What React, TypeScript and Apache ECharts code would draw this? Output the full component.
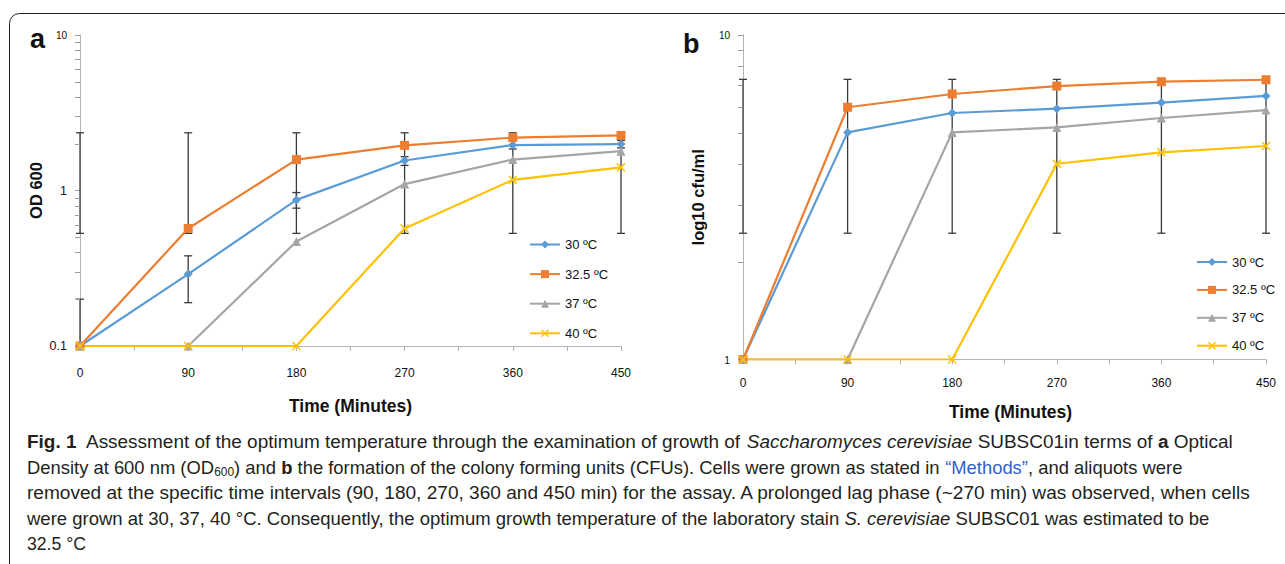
import React, { useEffect, useRef } from 'react';
import * as echarts from 'echarts';

// ---------- data ----------
const times = [0, 90, 180, 270, 360, 450];
const xTickLabels = ['0', '90', '180', '270', '360', '450'];
const seriesNames = ['30 ºC', '32.5 ºC', '37 ºC', '40 ºC'];

// panel a: OD 600
const od30 = [0.1, 0.29, 0.87, 1.56, 1.96, 1.99];
const od325 = [0.1, 0.57, 1.58, 1.95, 2.19, 2.26];
const od37 = [0.1, 0.1, 0.47, 1.1, 1.58, 1.79];
const od40 = [0.1, 0.1, 0.1, 0.57, 1.17, 1.41];
const odErrLow = [0.53, 0.53, 0.53, 0.53, 0.53, 0.53];
const odErrHigh = [2.35, 2.35, 2.35, 2.35, 2.35, 2.35];
const od30ErrLow = [0.1, 0.19, 0.77, 1.45, 1.85, 1.88];
const od30ErrHigh = [0.2, 0.38, 0.97, 1.65, 2.07, 2.1];
const odMinorTicks = [0.2, 0.3, 0.4, 0.5, 0.6, 0.7, 0.8, 0.9, 2, 3, 4, 5, 6, 7, 8, 9];

// panel b: log10 cfu/ml
const cfu30 = [1, 5.01, 5.75, 5.93, 6.19, 6.49];
const cfu325 = [1, 5.99, 6.58, 6.96, 7.18, 7.28];
const cfu37 = [1, 1, 5.01, 5.19, 5.55, 5.87];
const cfu40 = [1, 1, 1, 4.01, 4.35, 4.55];
const cfuErrLow = [2.45, 2.45, 2.45, 2.45, 2.45, 2.45];
const cfuErrHigh = [7.3, 7.3, 7.3, 7.3, 7.3, 7.3];
const cfuMinorTicks = [2, 3, 4, 5, 6, 7, 8, 9];

// caption (segments: n normal, b bold, i italic, l link, s subscript)
const captionLines: [string, string][][] = [
  [['b', 'Fig. 1'], ['n', '  Assessment of the optimum temperature through the examination of growth of '], ['i', 'Saccharomyces cerevisiae'], ['n', ' SUBSC01in terms of '], ['b', 'a'], ['n', ' Optical']],
  [['n', 'Density at 600 nm (OD'], ['s', '600'], ['n', ') and '], ['b', 'b'], ['n', ' the formation of the colony forming units (CFUs). Cells were grown as stated in '], ['l', '“Methods”'], ['n', ', and aliquots were']],
  [['n', 'removed at the specific time intervals (90, 180, 270, 360 and 450 min) for the assay. A prolonged lag phase (~270 min) was observed, when cells']],
  [['n', 'were grown at 30, 37, 40 °C. Consequently, the optimum growth temperature of the laboratory stain '], ['i', 'S. cerevisiae'], ['n', ' SUBSC01 was estimated to be']],
  [['n', '32.5 °C']],
];
const captionLineEnds = [1233, 1183, 1253, 1209, 86];
const captionLineY = [441.7, 467.3, 492.7, 518.3, 543.5];

// ---------- styling ----------
const CHART_FONT = '"Liberation Sans", Arial, sans-serif';
const CAP_FONT = '"Liberation Sans Narrow", "Liberation Sans", Arial, sans-serif';
const CAP_SIZE = 18.5;
const COLORS = ['#5B9BD5', '#ED7D31', '#A5A5A5', '#FFC000'];
const AXIS_GRAY = '#B4B4B4';
const MINOR_GRAY = '#9A9A9A';
const ERR_COLOR = '#3a3a3a';
const CROSS = 'path://M0,1.2 L1.2,0 L5,3.8 L8.8,0 L10,1.2 L6.2,5 L10,8.8 L8.8,10 L5,6.2 L1.2,10 L0,8.8 L3.8,5 Z';
const SYMBOLS = ['diamond', 'rect', 'triangle', CROSS];
const SYMBOL_SIZES = [9, 9, 9, 9];

const segStyle = (k: string) => {
  const s: any = { fontFamily: CAP_FONT, fontSize: CAP_SIZE, fill: '#231f20', lineHeight: 22 };
  if (k === 'b') s.fontWeight = 'bold';
  if (k === 'i') s.fontStyle = 'italic';
  if (k === 'l') s.fill = '#2f5fd0';
  if (k === 's') { s.fontSize = 12; s.lineHeight = 12; s.verticalAlign = 'bottom'; }
  return s;
};

function measureLine(line: [string, string][]) {
  const c = document.createElement('canvas').getContext('2d');
  if (!c) return 1;
  let w = 0;
  for (const [k, t] of line) {
    const s = segStyle(k);
    c.font = `${s.fontStyle || 'normal'} ${s.fontWeight || 'normal'} ${s.fontSize}px ${CAP_FONT}`;
    w += c.measureText(t).width;
  }
  return w;
}

const pairs = (arr: number[]) => times.map((t, i) => [t, arr[i]]);
const errData = (lo: number[], hi: number[]) => times.map((t, i) => [t, lo[i], hi[i]]);

const errRender = (params: any, api: any) => {
  const x = api.value(0);
  const p1 = api.coord([x, api.value(1)]);
  const p2 = api.coord([x, api.value(2)]);
  const w = 4;
  const style = { stroke: ERR_COLOR, lineWidth: 1.3 };
  return {
    type: 'group',
    children: [
      { type: 'line', shape: { x1: p1[0], y1: p1[1], x2: p2[0], y2: p2[1] }, style },
      { type: 'line', shape: { x1: p1[0] - w, y1: p1[1], x2: p1[0] + w, y2: p1[1] }, style },
      { type: 'line', shape: { x1: p2[0] - w, y1: p2[1], x2: p2[0] + w, y2: p2[1] }, style },
    ],
  };
};

const minorRender = (params: any, api: any) => {
  const p = api.coord([0, api.value(1)]);
  const y = Math.round(p[1]) + 0.5;
  return {
    type: 'line',
    shape: { x1: p[0] - 5, y1: y, x2: p[0], y2: y },
    style: { stroke: MINOR_GRAY, lineWidth: 1 },
  };
};

function buildOption() {
  const xAxis = (gridIndex: number, nameGap: number, margin: number, namePadLeft: number) => ({
    type: 'value',
    gridIndex,
    min: 0,
    max: 450,
    interval: 45,
    name: 'Time (Minutes)',
    nameLocation: 'middle',
    nameGap,
    nameTextStyle: { fontSize: 17.5, fontWeight: 'bold', color: '#111', fontFamily: CHART_FONT, padding: [0, 0, 0, namePadLeft] },
    axisLine: { lineStyle: { color: AXIS_GRAY, width: 1 } },
    axisTick: { length: 5, lineStyle: { color: AXIS_GRAY } },
    axisLabel: {
      formatter: (v: number) => {
        const i = times.indexOf(v);
        return i >= 0 ? xTickLabels[i] : '';
      },
      fontSize: 12,
      color: '#111',
      margin,
      fontFamily: CHART_FONT,
    },
    splitLine: { show: false },
  });

  const yAxis = (gridIndex: number, min: number, max: number, name: string, nameGap: number, bigOne: boolean) => ({
    type: 'log',
    logBase: 10,
    gridIndex,
    min,
    max,
    name,
    nameLocation: 'middle',
    nameGap,
    nameTextStyle: { fontSize: 16.5, fontWeight: 'bold', color: '#111', fontFamily: CHART_FONT },
    axisLine: { show: true, lineStyle: { color: AXIS_GRAY, width: 1 } },
    axisTick: { show: true, length: 5, lineStyle: { color: MINOR_GRAY } },
    axisLabel: {
      margin: 13,
      color: '#111',
      fontFamily: CHART_FONT,
      fontSize: bigOne ? 12.5 : 10.5,
      formatter: (v: number) => {
        const s = String(Number(v.toPrecision(3)));
        return v >= 9.99 ? `{s|${s}}` : s;
      },
      rich: { s: { fontSize: 10, color: '#111', fontFamily: CHART_FONT } },
    },
    splitLine: { show: false },
  });

  const lineSeries = (arrs: number[][], axisIndex: number) =>
    arrs.map((arr, k) => ({
      type: 'line',
      name: seriesNames[k],
      xAxisIndex: axisIndex,
      yAxisIndex: axisIndex,
      data: pairs(arr),
      symbol: SYMBOLS[k],
      symbolSize: SYMBOL_SIZES[k],
      showAllSymbol: true,
      lineStyle: { color: COLORS[k], width: 2.2 },
      itemStyle: { color: COLORS[k] },
      z: 3,
    }));

  const legend = (left: number, top: number, gap: number) => ({
    data: seriesNames,
    orient: 'vertical',
    left,
    top,
    padding: 0,
    itemWidth: 30,
    itemHeight: 10,
    itemGap: gap,
    selectedMode: false,
    textStyle: { fontSize: 13, color: '#111', fontFamily: CHART_FONT },
  });

  const captionGraphics = captionLines.map((line, i) => {
    const text = line.map(([k, t]) => `{${k}|${t}}`).join('');
    const rich: any = {};
    ['n', 'b', 'i', 'l', 's'].forEach((k) => (rich[k] = segStyle(k)));
    const w = measureLine(line);
    const scaleX = (captionLineEnds[i] - 27) / w;
    return {
      type: 'text',
      x: 27,
      y: captionLineY[i],
      scaleX,
      style: {
        text,
        rich,
        x: 0,
        y: 0,
        align: 'left',
        verticalAlign: 'middle',
        fontFamily: CAP_FONT,
        fontSize: CAP_SIZE,
        fill: '#231f20',
      },
    };
  });

  return {
    animation: false,
    backgroundColor: '#ffffff',
    grid: [
      { left: 80, right: 1285 - 621, top: 35, bottom: 564 - 346 },
      { left: 743, right: 1285 - 1266, top: 35, bottom: 564 - 359.5 },
    ],
    xAxis: [xAxis(0, 50.5, 20.5, 0), xAxis(1, 43.7, 17.3, 12)],
    yAxis: [
      yAxis(0, 0.1, 10, 'OD 600', 36, true),
      yAxis(1, 1, 10, 'log10 cfu/ml', 37, false),
    ],
    legend: [legend(529, 238, 16.6), legend(1196, 255.5, 14.9)],
    series: [
      { type: 'custom', xAxisIndex: 0, yAxisIndex: 0, data: odMinorTicks.map((v) => [0, v]), renderItem: minorRender, clip: false, silent: true, z: 4 },
      { type: 'custom', xAxisIndex: 1, yAxisIndex: 1, data: cfuMinorTicks.map((v) => [0, v]), renderItem: minorRender, clip: false, silent: true, z: 4 },
      { type: 'custom', xAxisIndex: 0, yAxisIndex: 0, data: errData(odErrLow, odErrHigh), renderItem: errRender, clip: false, silent: true, z: 2 },
      { type: 'custom', xAxisIndex: 0, yAxisIndex: 0, data: errData(od30ErrLow, od30ErrHigh), renderItem: errRender, clip: false, silent: true, z: 2 },
      { type: 'custom', xAxisIndex: 1, yAxisIndex: 1, data: errData(cfuErrLow, cfuErrHigh), renderItem: errRender, clip: false, silent: true, z: 2 },
      ...lineSeries([od30, od325, od37, od40], 0),
      ...lineSeries([cfu30, cfu325, cfu37, cfu40], 1),
    ],
    graphic: [
      {
        type: 'rect',
        shape: { x: 9.5, y: 13.5, width: 1500, height: 800, r: 10 },
        style: { fill: 'none', stroke: '#222', lineWidth: 1 },
        silent: true,
        z: -10,
      },
      {
        type: 'text',
        x: 30,
        y: 39,
        style: { text: 'a', fontFamily: CHART_FONT, fontWeight: 'bold', fontSize: 27, fill: '#111', verticalAlign: 'middle', align: 'left' },
      },
      {
        type: 'text',
        x: 683,
        y: 43.6,
        style: { text: 'b', fontFamily: CHART_FONT, fontWeight: 'bold', fontSize: 27, fill: '#111', verticalAlign: 'middle', align: 'left' },
      },
      ...captionGraphics,
    ],
  };
}

export default function App() {
  const ref = useRef<HTMLDivElement>(null);
  useEffect(() => {
    if (!ref.current) return;
    const chart = echarts.init(ref.current, null, { renderer: 'svg' });
    chart.setOption(buildOption() as any);
    return () => chart.dispose();
  }, []);
  return (
    <div
      ref={ref}
      style={{ position: 'absolute', left: 0, top: 0, width: 1285, height: 564, background: '#fff' }}
    />
  );
}
